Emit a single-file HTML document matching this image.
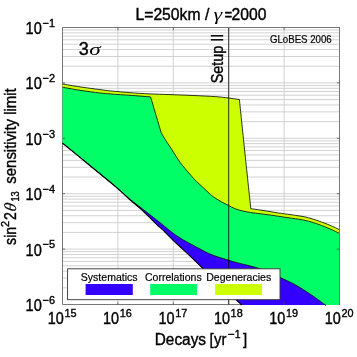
<!DOCTYPE html><html><head><meta charset="utf-8"><style>html,body{margin:0;padding:0;background:#fff;overflow:hidden}svg{display:block;will-change:transform}text{font-family:"Liberation Sans",sans-serif;fill:#000}.it{font-family:"Liberation Serif",serif;font-style:italic}</style></head><body>
<svg width="357" height="357" viewBox="0 0 357 357">
<rect width="357" height="357" fill="#fff"/>
<path d="M62.5 287.82H339.5M62.5 278.07H339.5M62.5 271.15H339.5M62.5 265.78H339.5M62.5 261.39H339.5M62.5 257.68H339.5M62.5 254.47H339.5M62.5 251.63H339.5M62.5 249.10H339.5M62.5 232.42H339.5M62.5 222.67H339.5M62.5 215.75H339.5M62.5 210.38H339.5M62.5 205.99H339.5M62.5 202.28H339.5M62.5 199.07H339.5M62.5 196.23H339.5M62.5 193.70H339.5M62.5 177.02H339.5M62.5 167.27H339.5M62.5 160.35H339.5M62.5 154.98H339.5M62.5 150.59H339.5M62.5 146.88H339.5M62.5 143.67H339.5M62.5 140.83H339.5M62.5 138.30H339.5M62.5 121.62H339.5M62.5 111.87H339.5M62.5 104.95H339.5M62.5 99.58H339.5M62.5 95.19H339.5M62.5 91.48H339.5M62.5 88.27H339.5M62.5 85.43H339.5M62.5 82.90H339.5M62.5 66.22H339.5M62.5 56.47H339.5M62.5 49.55H339.5M62.5 44.18H339.5M62.5 39.79H339.5M62.5 36.08H339.5M62.5 32.87H339.5M62.5 30.03H339.5M117.90 27.5V304.5M173.30 27.5V304.5M228.70 27.5V304.5M284.10 27.5V304.5" stroke="#cacaca" stroke-width="0.85" fill="none"/>
<path d="M62.5 27.5V304.5H339.5" fill="none" stroke="#787878" stroke-width="1" stroke-linecap="square"/>
<path d="M62.50 84.00C65.42 84.48 73.75 85.97 80.00 86.90C86.25 87.83 95.00 88.93 100.00 89.60C105.00 90.27 107.00 90.57 110.00 90.90C113.00 91.23 114.67 91.30 118.00 91.60C121.33 91.90 124.67 92.32 130.00 92.70C135.33 93.08 143.33 93.58 150.00 93.90C156.67 94.22 161.67 94.28 170.00 94.60C178.33 94.92 191.67 95.40 200.00 95.80C208.33 96.20 213.43 96.38 220.00 97.00C226.57 97.62 236.17 99.08 239.40 99.50C240.27 107.92 242.70 131.80 244.60 150.00C246.50 168.20 249.77 198.92 250.80 208.70C252.33 208.83 256.80 209.50 260.00 210.00C263.20 210.50 266.90 211.10 270.00 211.60C273.10 212.10 275.27 212.50 278.60 213.00C281.93 213.50 286.93 214.17 290.00 214.60C293.07 215.03 294.50 215.22 297.00 215.60C299.50 215.98 302.50 216.37 305.00 216.90C307.50 217.43 309.68 218.10 312.00 218.80C314.32 219.50 315.90 220.02 318.90 221.10C321.90 222.18 326.57 223.87 330.00 225.30C333.43 226.73 337.92 228.97 339.50 229.70L339.50 233.40C337.92 232.65 333.43 230.38 330.00 228.90C326.57 227.42 321.90 225.62 318.90 224.50C315.90 223.38 314.32 222.88 312.00 222.20C309.68 221.52 307.00 220.87 305.00 220.40C303.00 219.93 302.50 219.80 300.00 219.40C297.50 219.00 293.57 218.52 290.00 218.00C286.43 217.48 281.93 216.80 278.60 216.30C275.27 215.80 273.10 215.43 270.00 215.00C266.90 214.57 263.20 214.12 260.00 213.70C256.80 213.28 253.47 212.90 250.80 212.50C248.13 212.10 246.08 211.75 244.00 211.30C241.92 210.85 240.05 210.35 238.30 209.80C236.55 209.25 235.12 208.72 233.50 208.00C231.88 207.28 230.68 206.57 228.60 205.50C226.52 204.43 223.50 203.02 221.00 201.60C218.50 200.18 215.77 198.57 213.60 197.00C211.43 195.43 209.87 193.88 208.00 192.20C206.13 190.52 204.32 188.68 202.40 186.90C200.48 185.12 198.37 183.37 196.50 181.50C194.63 179.63 193.12 177.87 191.20 175.70C189.28 173.53 186.87 170.75 185.00 168.50C183.13 166.25 181.50 164.23 180.00 162.20C178.50 160.17 177.33 158.37 176.00 156.30C174.67 154.23 173.67 152.38 172.00 149.80C170.33 147.22 167.80 143.63 166.00 140.80C164.20 137.97 162.00 134.13 161.20 132.80C159.43 126.82 152.37 102.88 150.60 96.90C147.17 96.63 135.43 95.70 130.00 95.30C124.57 94.90 121.33 94.73 118.00 94.50C114.67 94.27 113.00 94.15 110.00 93.90C107.00 93.65 105.00 93.60 100.00 93.00C95.00 92.40 86.25 91.27 80.00 90.30C73.75 89.33 65.42 87.72 62.50 87.20Z" fill="#ccff00"/>
<path d="M62.50 87.20C65.42 87.72 73.75 89.33 80.00 90.30C86.25 91.27 95.00 92.40 100.00 93.00C105.00 93.60 107.00 93.65 110.00 93.90C113.00 94.15 114.67 94.27 118.00 94.50C121.33 94.73 124.57 94.90 130.00 95.30C135.43 95.70 147.17 96.63 150.60 96.90C152.37 102.88 159.43 126.82 161.20 132.80C162.00 134.13 164.20 137.97 166.00 140.80C167.80 143.63 170.33 147.22 172.00 149.80C173.67 152.38 174.67 154.23 176.00 156.30C177.33 158.37 178.50 160.17 180.00 162.20C181.50 164.23 183.13 166.25 185.00 168.50C186.87 170.75 189.28 173.53 191.20 175.70C193.12 177.87 194.63 179.63 196.50 181.50C198.37 183.37 200.48 185.12 202.40 186.90C204.32 188.68 206.13 190.52 208.00 192.20C209.87 193.88 211.43 195.43 213.60 197.00C215.77 198.57 218.50 200.18 221.00 201.60C223.50 203.02 226.52 204.43 228.60 205.50C230.68 206.57 231.88 207.28 233.50 208.00C235.12 208.72 236.55 209.25 238.30 209.80C240.05 210.35 241.92 210.85 244.00 211.30C246.08 211.75 248.13 212.10 250.80 212.50C253.47 212.90 256.80 213.28 260.00 213.70C263.20 214.12 266.90 214.57 270.00 215.00C273.10 215.43 275.27 215.80 278.60 216.30C281.93 216.80 286.43 217.48 290.00 218.00C293.57 218.52 297.50 219.00 300.00 219.40C302.50 219.80 303.00 219.93 305.00 220.40C307.00 220.87 309.68 221.52 312.00 222.20C314.32 222.88 315.90 223.38 318.90 224.50C321.90 225.62 326.57 227.42 330.00 228.90C333.43 230.38 337.92 232.65 339.50 233.40L340 305.1L325.30 305.10C325.20 305.00 327.20 306.32 324.70 304.50C322.20 302.68 315.32 297.55 310.30 294.20C305.28 290.85 299.65 287.18 294.60 284.40C289.55 281.62 284.10 279.48 280.00 277.50C275.90 275.52 273.45 274.00 270.00 272.50C266.55 271.00 263.53 269.82 259.30 268.50C255.07 267.18 248.65 265.65 244.60 264.60C240.55 263.55 237.63 262.93 235.00 262.20C232.37 261.47 231.63 261.07 228.80 260.20C225.97 259.33 221.37 258.13 218.00 257.00C214.63 255.87 211.60 254.73 208.60 253.40C205.60 252.07 202.93 250.53 200.00 249.00C197.07 247.47 194.33 246.03 191.00 244.20C187.67 242.37 182.90 239.77 180.00 238.00C177.10 236.23 176.10 235.47 173.60 233.60C171.10 231.73 167.80 229.05 165.00 226.80C162.20 224.55 159.30 222.10 156.80 220.10C154.30 218.10 152.80 216.98 150.00 214.80C147.20 212.62 143.33 209.58 140.00 207.00C136.67 204.42 133.33 202.05 130.00 199.30C126.67 196.55 123.33 193.38 120.00 190.50C116.67 187.62 115.83 186.83 110.00 182.00C104.17 177.17 92.92 167.98 85.00 161.50C77.08 155.02 66.25 146.17 62.50 143.10Z" fill="#00ff66"/>
<path d="M62.50 143.10C66.25 146.17 77.08 155.02 85.00 161.50C92.92 167.98 104.17 177.17 110.00 182.00C115.83 186.83 116.67 187.62 120.00 190.50C123.33 193.38 126.67 196.55 130.00 199.30C133.33 202.05 136.67 204.42 140.00 207.00C143.33 209.58 147.20 212.62 150.00 214.80C152.80 216.98 154.30 218.10 156.80 220.10C159.30 222.10 162.20 224.55 165.00 226.80C167.80 229.05 171.10 231.73 173.60 233.60C176.10 235.47 177.10 236.23 180.00 238.00C182.90 239.77 187.67 242.37 191.00 244.20C194.33 246.03 197.07 247.47 200.00 249.00C202.93 250.53 205.60 252.07 208.60 253.40C211.60 254.73 214.63 255.87 218.00 257.00C221.37 258.13 225.97 259.33 228.80 260.20C231.63 261.07 232.37 261.47 235.00 262.20C237.63 262.93 240.55 263.55 244.60 264.60C248.65 265.65 255.07 267.18 259.30 268.50C263.53 269.82 266.55 271.00 270.00 272.50C273.45 274.00 275.90 275.52 280.00 277.50C284.10 279.48 289.55 281.62 294.60 284.40C299.65 287.18 305.28 290.85 310.30 294.20C315.32 297.55 322.20 302.68 324.70 304.50C327.20 306.32 325.20 305.00 325.30 305.10L241.60 305.10C241.50 305.00 241.93 305.40 241.00 304.50C240.07 303.60 242.33 305.70 236.00 299.70C229.67 293.70 210.60 275.73 203.00 268.50C195.40 261.27 195.30 260.92 190.40 256.30C185.50 251.68 177.83 244.85 173.60 240.80C169.37 236.75 167.80 234.70 165.00 232.00C162.20 229.30 159.30 226.97 156.80 224.60C154.30 222.23 152.80 220.52 150.00 217.80C147.20 215.08 143.33 211.30 140.00 208.30C136.67 205.30 133.33 202.75 130.00 199.80C126.67 196.85 123.33 193.57 120.00 190.60C116.67 187.63 115.83 186.85 110.00 182.00C104.17 177.15 92.92 167.98 85.00 161.50C77.08 155.02 66.25 146.17 62.50 143.10Z" fill="#3300ff"/>
<path d="M62.50 84.00C65.42 84.48 73.75 85.97 80.00 86.90C86.25 87.83 95.00 88.93 100.00 89.60C105.00 90.27 107.00 90.57 110.00 90.90C113.00 91.23 114.67 91.30 118.00 91.60C121.33 91.90 124.67 92.32 130.00 92.70C135.33 93.08 143.33 93.58 150.00 93.90C156.67 94.22 161.67 94.28 170.00 94.60C178.33 94.92 191.67 95.40 200.00 95.80C208.33 96.20 213.43 96.38 220.00 97.00C226.57 97.62 236.17 99.08 239.40 99.50C240.27 107.92 242.70 131.80 244.60 150.00C246.50 168.20 249.77 198.92 250.80 208.70C252.33 208.83 256.80 209.50 260.00 210.00C263.20 210.50 266.90 211.10 270.00 211.60C273.10 212.10 275.27 212.50 278.60 213.00C281.93 213.50 286.93 214.17 290.00 214.60C293.07 215.03 294.50 215.22 297.00 215.60C299.50 215.98 302.50 216.37 305.00 216.90C307.50 217.43 309.68 218.10 312.00 218.80C314.32 219.50 315.90 220.02 318.90 221.10C321.90 222.18 326.57 223.87 330.00 225.30C333.43 226.73 337.92 228.97 339.50 229.70" fill="none" stroke="#000" stroke-width="0.8" stroke-linejoin="round"/>
<path d="M62.50 87.20C65.42 87.72 73.75 89.33 80.00 90.30C86.25 91.27 95.00 92.40 100.00 93.00C105.00 93.60 107.00 93.65 110.00 93.90C113.00 94.15 114.67 94.27 118.00 94.50C121.33 94.73 124.57 94.90 130.00 95.30C135.43 95.70 147.17 96.63 150.60 96.90C152.37 102.88 159.43 126.82 161.20 132.80C162.00 134.13 164.20 137.97 166.00 140.80C167.80 143.63 170.33 147.22 172.00 149.80C173.67 152.38 174.67 154.23 176.00 156.30C177.33 158.37 178.50 160.17 180.00 162.20C181.50 164.23 183.13 166.25 185.00 168.50C186.87 170.75 189.28 173.53 191.20 175.70C193.12 177.87 194.63 179.63 196.50 181.50C198.37 183.37 200.48 185.12 202.40 186.90C204.32 188.68 206.13 190.52 208.00 192.20C209.87 193.88 211.43 195.43 213.60 197.00C215.77 198.57 218.50 200.18 221.00 201.60C223.50 203.02 226.52 204.43 228.60 205.50C230.68 206.57 231.88 207.28 233.50 208.00C235.12 208.72 236.55 209.25 238.30 209.80C240.05 210.35 241.92 210.85 244.00 211.30C246.08 211.75 248.13 212.10 250.80 212.50C253.47 212.90 256.80 213.28 260.00 213.70C263.20 214.12 266.90 214.57 270.00 215.00C273.10 215.43 275.27 215.80 278.60 216.30C281.93 216.80 286.43 217.48 290.00 218.00C293.57 218.52 297.50 219.00 300.00 219.40C302.50 219.80 303.00 219.93 305.00 220.40C307.00 220.87 309.68 221.52 312.00 222.20C314.32 222.88 315.90 223.38 318.90 224.50C321.90 225.62 326.57 227.42 330.00 228.90C333.43 230.38 337.92 232.65 339.50 233.40" fill="none" stroke="#000" stroke-width="0.8" stroke-linejoin="round"/>
<path d="M62.50 143.10C66.25 146.17 77.08 155.02 85.00 161.50C92.92 167.98 104.17 177.17 110.00 182.00C115.83 186.83 116.67 187.62 120.00 190.50C123.33 193.38 126.67 196.55 130.00 199.30C133.33 202.05 136.67 204.42 140.00 207.00C143.33 209.58 147.20 212.62 150.00 214.80C152.80 216.98 154.30 218.10 156.80 220.10C159.30 222.10 162.20 224.55 165.00 226.80C167.80 229.05 171.10 231.73 173.60 233.60C176.10 235.47 177.10 236.23 180.00 238.00C182.90 239.77 187.67 242.37 191.00 244.20C194.33 246.03 197.07 247.47 200.00 249.00C202.93 250.53 205.60 252.07 208.60 253.40C211.60 254.73 214.63 255.87 218.00 257.00C221.37 258.13 225.97 259.33 228.80 260.20C231.63 261.07 232.37 261.47 235.00 262.20C237.63 262.93 240.55 263.55 244.60 264.60C248.65 265.65 255.07 267.18 259.30 268.50C263.53 269.82 266.55 271.00 270.00 272.50C273.45 274.00 275.90 275.52 280.00 277.50C284.10 279.48 289.55 281.62 294.60 284.40C299.65 287.18 305.28 290.85 310.30 294.20C315.32 297.55 322.20 302.68 324.70 304.50C327.20 306.32 325.20 305.00 325.30 305.10" fill="none" stroke="#000" stroke-width="0.8" stroke-linejoin="round"/>
<path d="M62.50 143.10C66.25 146.17 77.08 155.02 85.00 161.50C92.92 167.98 104.17 177.15 110.00 182.00C115.83 186.85 116.67 187.63 120.00 190.60C123.33 193.57 126.67 196.85 130.00 199.80C133.33 202.75 136.67 205.30 140.00 208.30C143.33 211.30 147.20 215.08 150.00 217.80C152.80 220.52 154.30 222.23 156.80 224.60C159.30 226.97 162.20 229.30 165.00 232.00C167.80 234.70 169.37 236.75 173.60 240.80C177.83 244.85 185.50 251.68 190.40 256.30C195.30 260.92 195.40 261.27 203.00 268.50C210.60 275.73 229.67 293.70 236.00 299.70C242.33 305.70 240.07 303.60 241.00 304.50C241.93 305.40 241.50 305.00 241.60 305.10" fill="none" stroke="#000" stroke-width="1.1" stroke-linejoin="round"/>
<path d="M228.70 27.5V304.5" stroke="#000" stroke-width="0.8"/>
<path d="M62.5 27.5H339.5M339.5 27.5V304.5" fill="none" stroke="#787878" stroke-width="1" stroke-linecap="square"/>
<path d="M117.90 27.5v2.6M117.90 304.5v-2.6M173.30 27.5v2.6M173.30 304.5v-2.6M228.70 27.5v2.6M228.70 304.5v-2.6M284.10 27.5v2.6M284.10 304.5v-2.6M62.5 249.10h2.6M339.5 249.10h-2.6M62.5 193.70h2.6M339.5 193.70h-2.6M62.5 138.30h2.6M339.5 138.30h-2.6M62.5 82.90h2.6M339.5 82.90h-2.6" stroke="#4a4a4a" stroke-width="0.75" fill="none"/>
<rect x="67.6" y="268.8" width="212.4" height="30.9" fill="#fff" stroke="#333" stroke-width="0.9"/>
<rect x="85.6" y="284" width="47.2" height="11" fill="#3300ff"/>
<rect x="150.2" y="284" width="46.8" height="11" fill="#00ff66"/>
<rect x="215.1" y="284" width="46.8" height="11" fill="#ccff00"/>
<text transform="translate(109.20,280.50) scale(0.925,1)" font-size="11.4" text-anchor="middle" stroke="#000" stroke-width="0.2">Systematics</text>
<text transform="translate(173.30,280.50) scale(0.925,1)" font-size="11.4" text-anchor="middle" stroke="#000" stroke-width="0.2">Correlations</text>
<text transform="translate(238.70,280.50) scale(0.925,1)" font-size="11.4" text-anchor="middle" stroke="#000" stroke-width="0.2">Degeneracies</text>
<text transform="translate(25.60,311.00) scale(0.91,1)" font-size="16" stroke="#000" stroke-width="0.38">10</text><text transform="translate(42.50,303.80) scale(0.97,1)" font-size="11.3" stroke="#000" stroke-width="0.38">−6</text>
<text transform="translate(25.60,255.60) scale(0.91,1)" font-size="16" stroke="#000" stroke-width="0.38">10</text><text transform="translate(42.50,248.40) scale(0.97,1)" font-size="11.3" stroke="#000" stroke-width="0.38">−5</text>
<text transform="translate(25.60,200.20) scale(0.91,1)" font-size="16" stroke="#000" stroke-width="0.38">10</text><text transform="translate(42.50,193.00) scale(0.97,1)" font-size="11.3" stroke="#000" stroke-width="0.38">−4</text>
<text transform="translate(25.60,144.80) scale(0.91,1)" font-size="16" stroke="#000" stroke-width="0.38">10</text><text transform="translate(42.50,137.60) scale(0.97,1)" font-size="11.3" stroke="#000" stroke-width="0.38">−3</text>
<text transform="translate(25.60,89.40) scale(0.91,1)" font-size="16" stroke="#000" stroke-width="0.38">10</text><text transform="translate(42.50,82.20) scale(0.97,1)" font-size="11.3" stroke="#000" stroke-width="0.38">−2</text>
<text transform="translate(25.60,34.00) scale(0.91,1)" font-size="16" stroke="#000" stroke-width="0.38">10</text><text transform="translate(42.50,26.80) scale(0.97,1)" font-size="11.3" stroke="#000" stroke-width="0.38">−1</text>
<text transform="translate(47.70,324.40) scale(0.9,1)" font-size="16" stroke="#000" stroke-width="0.38">10</text><text transform="translate(64.40,317.30) scale(0.92,1)" font-size="11.8" stroke="#000" stroke-width="0.38">15</text>
<text transform="translate(103.10,324.40) scale(0.9,1)" font-size="16" stroke="#000" stroke-width="0.38">10</text><text transform="translate(119.80,317.30) scale(0.92,1)" font-size="11.8" stroke="#000" stroke-width="0.38">16</text>
<text transform="translate(158.50,324.40) scale(0.9,1)" font-size="16" stroke="#000" stroke-width="0.38">10</text><text transform="translate(175.20,317.30) scale(0.92,1)" font-size="11.8" stroke="#000" stroke-width="0.38">17</text>
<text transform="translate(213.90,324.40) scale(0.9,1)" font-size="16" stroke="#000" stroke-width="0.38">10</text><text transform="translate(230.60,317.30) scale(0.92,1)" font-size="11.8" stroke="#000" stroke-width="0.38">18</text>
<text transform="translate(269.30,324.40) scale(0.9,1)" font-size="16" stroke="#000" stroke-width="0.38">10</text><text transform="translate(286.00,317.30) scale(0.92,1)" font-size="11.8" stroke="#000" stroke-width="0.38">19</text>
<text transform="translate(324.70,324.40) scale(0.9,1)" font-size="16" stroke="#000" stroke-width="0.38">10</text><text transform="translate(341.40,317.30) scale(0.92,1)" font-size="11.8" stroke="#000" stroke-width="0.38">20</text>
<text x="135.50" y="19.60" font-size="15.7" stroke="#000" stroke-width="0.38">L=250km</text><text x="204.90" y="19.60" font-size="15.7" stroke="#000" stroke-width="0.38">/</text><text transform="translate(213.40,19.60) scale(1.3,1)" font-size="17" class="it">γ</text><text transform="translate(224.60,19.60) scale(0.84,1)" font-size="15.7" stroke="#000" stroke-width="0.38">=</text><text x="231.50" y="19.60" font-size="15.7" stroke="#000" stroke-width="0.38">2000</text>
<text transform="translate(270.00,43.20) scale(0.885,1)" font-size="10.9" stroke="#000" stroke-width="0.2">GLoBES 2006</text>
<text x="78.80" y="54.70" font-size="18" stroke="#000" stroke-width="0.38">3</text><text transform="translate(89.20,54.70) scale(1.45,1)" font-size="16" class="it">σ</text>
<text transform="translate(223.1,83.3) rotate(-90) scale(0.905,1)" font-size="15.9" stroke="#000" stroke-width="0.38">Setup II</text>
<text transform="translate(154.70,344.80) scale(0.975,1)" font-size="15.8" stroke="#000" stroke-width="0.38">Decays</text><text transform="translate(209.50,344.80) scale(0.93,1)" font-size="16.3" stroke="#000" stroke-width="0.38">[</text><text transform="translate(214.10,344.80) scale(0.93,1)" font-size="16" stroke="#000" stroke-width="0.38">yr</text><text x="227.90" y="338.10" font-size="11.5" stroke="#000" stroke-width="0.38">−</text><text transform="translate(234.80,338.10) scale(0.95,1)" font-size="11" stroke="#000" stroke-width="0.38">1</text><text transform="translate(242.90,344.80) scale(0.93,1)" font-size="16.3" stroke="#000" stroke-width="0.38">]</text>
<text transform="translate(15.70,244.90) rotate(-90) scale(0.88,1)" font-size="16" stroke="#000" stroke-width="0.38">sin</text><text transform="translate(9.20,227.00) rotate(-90) scale(1.0,1)" font-size="10.8" stroke="#000" stroke-width="0.38">2</text><text transform="translate(15.70,220.00) rotate(-90) scale(0.88,1)" font-size="16" stroke="#000" stroke-width="0.38">2</text><text transform="translate(16.00,212.00) rotate(-90) scale(1.0,1) skewX(-8)" font-size="17" class="it" stroke="#000" stroke-width="0.15">θ</text><text transform="translate(19.00,201.60) rotate(-90) scale(0.88,1)" font-size="10.6" stroke="#000" stroke-width="0.38">13</text><text transform="translate(15.70,183.70) rotate(-90) scale(0.935,1)" font-size="16" stroke="#000" stroke-width="0.38">sensitivity limit</text>
</svg></body></html>
